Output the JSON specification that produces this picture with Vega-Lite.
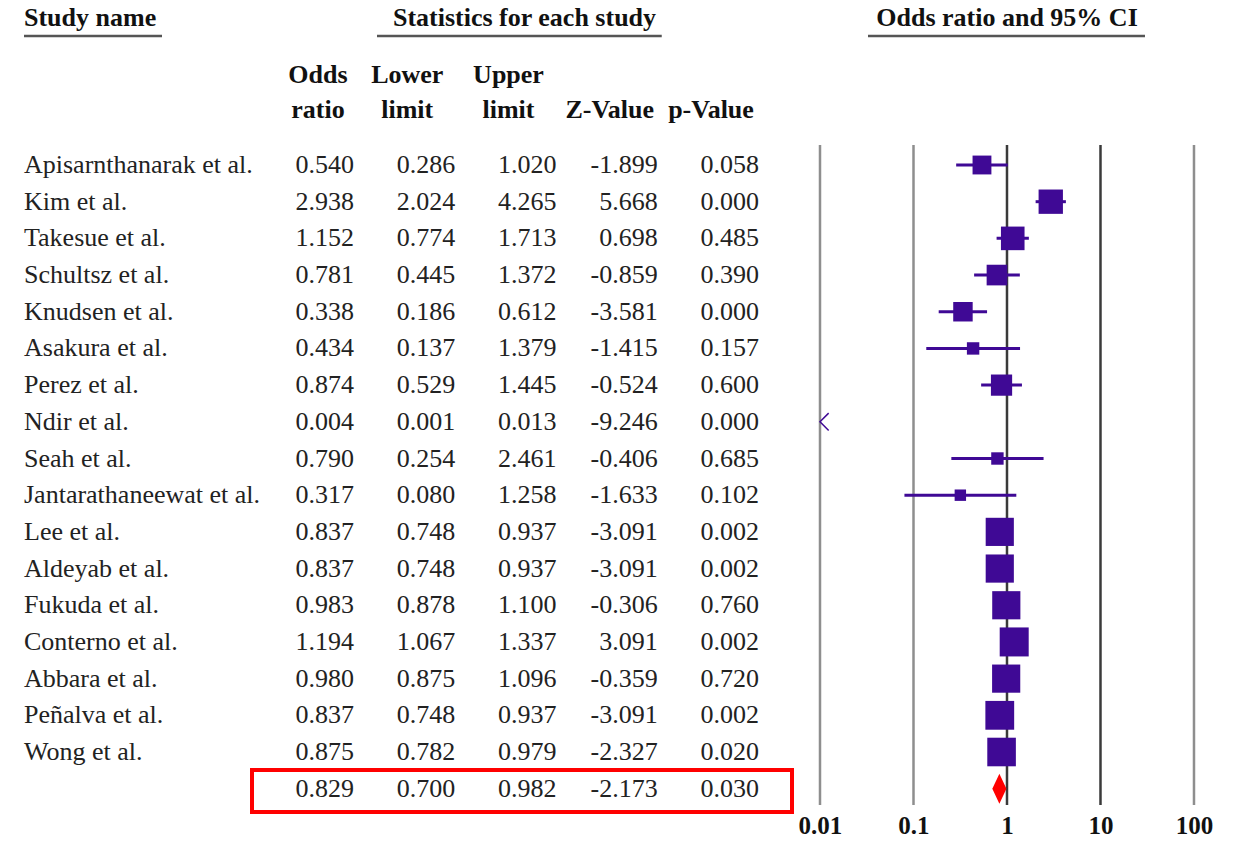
{
  "$schema": "https://vega.github.io/schema/vega-lite/v6.json",
  "padding": {"left": 22, "top": 0, "right": 0, "bottom": 0},
  "background": "white",
  "config": {
    "view": {"stroke": null},
    "locale": {"number": {"decimal": ".", "thousands": ",", "grouping": [3], "currency": ["$", ""], "minus": "-"}}
  },
  "datasets": {
    "main": [
      {"row": 0, "type": "study", "name": "Apisarnthanarak et al.", "or": 0.540, "lower": 0.286, "upper": 1.020, "z": -1.899, "p": 0.058, "weight": 3.0},
      {"row": 1, "type": "study", "name": "Kim et al.", "or": 2.938, "lower": 2.024, "upper": 4.265, "z": 5.668, "p": 0.000, "weight": 5.0},
      {"row": 2, "type": "study", "name": "Takesue et al.", "or": 1.152, "lower": 0.774, "upper": 1.713, "z": 0.698, "p": 0.485, "weight": 4.7},
      {"row": 3, "type": "study", "name": "Schultsz et al.", "or": 0.781, "lower": 0.445, "upper": 1.372, "z": -0.859, "p": 0.390, "weight": 3.6},
      {"row": 4, "type": "study", "name": "Knudsen et al.", "or": 0.338, "lower": 0.186, "upper": 0.612, "z": -3.581, "p": 0.000, "weight": 3.2},
      {"row": 5, "type": "study", "name": "Asakura et al.", "or": 0.434, "lower": 0.137, "upper": 1.379, "z": -1.415, "p": 0.157, "weight": 1.3},
      {"row": 6, "type": "study", "name": "Perez et al.", "or": 0.874, "lower": 0.529, "upper": 1.445, "z": -0.524, "p": 0.600, "weight": 3.8},
      {"row": 7, "type": "study", "name": "Ndir et al.", "or": 0.004, "lower": 0.001, "upper": 0.013, "z": -9.246, "p": 0.000, "weight": 0.5},
      {"row": 8, "type": "study", "name": "Seah et al.", "or": 0.790, "lower": 0.254, "upper": 2.461, "z": -0.406, "p": 0.685, "weight": 1.3},
      {"row": 9, "type": "study", "name": "Jantarathaneewat et al.", "or": 0.317, "lower": 0.080, "upper": 1.258, "z": -1.633, "p": 0.102, "weight": 1.1},
      {"row": 10, "type": "study", "name": "Lee et al.", "or": 0.837, "lower": 0.748, "upper": 0.937, "z": -3.091, "p": 0.002, "weight": 6.7},
      {"row": 11, "type": "study", "name": "Aldeyab et al.", "or": 0.837, "lower": 0.748, "upper": 0.937, "z": -3.091, "p": 0.002, "weight": 6.7},
      {"row": 12, "type": "study", "name": "Fukuda et al.", "or": 0.983, "lower": 0.878, "upper": 1.100, "z": -0.306, "p": 0.760, "weight": 6.7},
      {"row": 13, "type": "study", "name": "Conterno et al.", "or": 1.194, "lower": 1.067, "upper": 1.337, "z": 3.091, "p": 0.002, "weight": 7.1},
      {"row": 14, "type": "study", "name": "Abbara et al.", "or": 0.980, "lower": 0.875, "upper": 1.096, "z": -0.359, "p": 0.720, "weight": 6.7},
      {"row": 15, "type": "study", "name": "Peñalva et al.", "or": 0.837, "lower": 0.748, "upper": 0.937, "z": -3.091, "p": 0.002, "weight": 7.0},
      {"row": 16, "type": "study", "name": "Wong et al.", "or": 0.875, "lower": 0.782, "upper": 0.979, "z": -2.327, "p": 0.020, "weight": 6.9},
      {"row": 17, "type": "summary", "name": "", "or": 0.829, "lower": 0.700, "upper": 0.982, "z": -2.173, "p": 0.030, "weight": 0}
    ],
    "headers": [
      {"key": "or", "l1": "Odds", "l2": "ratio"},
      {"key": "lower", "l1": "Lower", "l2": "limit"},
      {"key": "upper", "l1": "Upper", "l2": "limit"},
      {"key": "z", "l1": "", "l2": "Z-Value"},
      {"key": "p", "l1": "", "l2": "p-Value"}
    ],
    "ticks": [{"tick": 0.01}, {"tick": 0.1}, {"tick": 1}, {"tick": 10}, {"tick": 100}]
  },
  "hconcat": [
    {
      "width": 138,
      "height": 805,
      "data": {"name": "main"},
      "layer": [
        {
          "data": {"values": [{}]},
          "mark": {"type": "text", "align": "left", "dx": -69, "font": "Liberation Serif", "fontSize": 26, "fontWeight": "bold", "color": "#111", "text": "Study name"},
          "encoding": {"y": {"datum": -4.006, "type": "quantitative", "scale": {"domain": [-4.4974, 17.4446], "reverse": true, "nice": false, "zero": false}, "axis": null}}
        },
        {
          "data": {"values": [{}]},
          "mark": {"type": "rule", "color": "#555", "strokeWidth": 2.5},
          "encoding": {"y": {"datum": -3.516, "type": "quantitative", "scale": {"domain": [-4.4974, 17.4446], "reverse": true, "nice": false, "zero": false}, "axis": null}}
        },
        {
          "transform": [{"filter": "datum.type == 'study'"}],
          "mark": {"type": "text", "align": "left", "dx": -69, "font": "Liberation Serif", "fontSize": 26, "color": "#222"},
          "encoding": {
            "y": {"field": "row", "type": "quantitative", "scale": {"domain": [-4.4974, 17.4446], "reverse": true, "nice": false, "zero": false}, "axis": null},
            "text": {"field": "name", "type": "nominal"}
          }
        }
      ]
    },
    {
      "hconcat": [
        {
          "width": 540,
          "height": 805,
          "data": {"name": "main"},
          "layer": [
            {
              "data": {"values": [{}]},
              "mark": {"type": "text", "align": "center", "dx": -30, "font": "Liberation Serif", "fontSize": 26, "fontWeight": "bold", "color": "#111", "text": "Statistics for each study"},
              "encoding": {
                "x": {"datum": "upper", "type": "nominal", "scale": {"type": "point", "domain": ["or", "lower", "upper", "z", "p"], "padding": 0.6667, "align": 0.7407}, "axis": null},
                "y": {"datum": -4.006, "type": "quantitative", "scale": {"domain": [-4.4974, 17.4446], "reverse": true, "nice": false, "zero": false}, "axis": null}
              }
            },
            {
              "data": {"values": [{}]},
              "mark": {"type": "rule", "color": "#555", "strokeWidth": 2.5, "xOffset": 25, "x2Offset": 6},
              "encoding": {
                "x": {"datum": "or", "type": "nominal", "scale": {"type": "point", "domain": ["or", "lower", "upper", "z", "p"], "padding": 0.6667, "align": 0.7407}, "axis": null},
                "x2": {"datum": "z"},
                "y": {"datum": -3.516, "type": "quantitative", "scale": {"domain": [-4.4974, 17.4446], "reverse": true, "nice": false, "zero": false}, "axis": null}
              }
            },
            {
              "data": {"name": "headers"},
              "transform": [{"filter": "datum.key == 'or'"}],
              "mark": {"type": "text", "align": "center", "dx": -34, "font": "Liberation Serif", "fontSize": 26, "fontWeight": "bold", "color": "#111"},
              "encoding": {
                "x": {"field": "key", "type": "nominal", "scale": {"type": "point", "domain": ["or", "lower", "upper", "z", "p"], "padding": 0.6667, "align": 0.7407}, "axis": null},
                "y": {"datum": -2.453, "type": "quantitative", "scale": {"domain": [-4.4974, 17.4446], "reverse": true, "nice": false, "zero": false}, "axis": null},
                "text": {"field": "l1", "type": "nominal"}
              }
            },
            {
              "data": {"name": "headers"},
              "transform": [{"filter": "datum.key == 'or'"}],
              "mark": {"type": "text", "align": "center", "dx": -34, "font": "Liberation Serif", "fontSize": 26, "fontWeight": "bold", "color": "#111"},
              "encoding": {
                "x": {"field": "key", "type": "nominal"},
                "y": {"datum": -1.499, "type": "quantitative"},
                "text": {"field": "l2", "type": "nominal"}
              }
            },
            {
              "data": {"name": "headers"},
              "transform": [{"filter": "datum.key != 'or'"}],
              "mark": {"type": "text", "align": "center", "dx": -46, "font": "Liberation Serif", "fontSize": 26, "fontWeight": "bold", "color": "#111"},
              "encoding": {
                "x": {"field": "key", "type": "nominal"},
                "y": {"datum": -2.453, "type": "quantitative"},
                "text": {"field": "l1", "type": "nominal"}
              }
            },
            {
              "data": {"name": "headers"},
              "transform": [{"filter": "datum.key != 'or'"}],
              "mark": {"type": "text", "align": "center", "dx": -46, "font": "Liberation Serif", "fontSize": 26, "fontWeight": "bold", "color": "#111"},
              "encoding": {
                "x": {"field": "key", "type": "nominal"},
                "y": {"datum": -1.499, "type": "quantitative"},
                "text": {"field": "l2", "type": "nominal"}
              }
            },
            {
              "transform": [{"fold": ["or", "lower", "upper", "z", "p"], "as": ["key", "value"]}],
              "mark": {"type": "text", "align": "right", "dx": 2, "font": "Liberation Serif", "fontSize": 26, "color": "#222"},
              "encoding": {
                "x": {"field": "key", "type": "nominal"},
                "y": {"field": "row", "type": "quantitative"},
                "text": {"field": "value", "type": "quantitative", "format": ".3f"}
              }
            },
            {
              "data": {"values": [{}]},
              "mark": {"type": "rect", "fill": "transparent", "stroke": "#ff0000", "strokeWidth": 4},
              "encoding": {
                "y": {"datum": 16.49, "type": "quantitative"},
                "y2": {"datum": 17.636}
              }
            }
          ],
          "resolve": {"scale": {"x": "shared", "y": "shared"}}
        },
        {
          "width": 453,
          "height": 805,
          "data": {"name": "main"},
          "layer": [
            {
              "data": {"name": "ticks"},
              "mark": {"type": "rule", "strokeWidth": 2.5},
              "encoding": {
                "x": {"field": "tick", "type": "quantitative", "title": null, "scale": {"type": "log", "domain": [0.005018, 351.2], "nice": false},
                  "axis": {"values": [0.01, 0.1, 1, 10, 100], "format": "~g", "domain": false, "ticks": false, "grid": false, "labelFont": "Liberation Serif", "labelFontSize": 25, "labelFontWeight": "bold", "labelColor": "#111", "labelPadding": 8, "labelFlush": false, "labelOverlap": false, "title": null}},
                "y": {"datum": -0.545, "type": "quantitative", "scale": {"domain": [-4.4974, 17.4446], "reverse": true, "nice": false, "zero": false}, "axis": null},
                "y2": {"datum": 17.4446},
                "color": {"condition": {"test": "datum.tick == 1 || datum.tick == 10", "value": "#3a3a3a"}, "value": "#8e8e8e"}
              }
            },
            {
              "data": {"values": [{}]},
              "mark": {"type": "text", "align": "center", "font": "Liberation Serif", "fontSize": 26, "fontWeight": "bold", "color": "#111", "text": "Odds ratio and 95% CI"},
              "encoding": {
                "x": {"datum": 1, "type": "quantitative", "title": null},
                "y": {"datum": -4.006, "type": "quantitative"}
              }
            },
            {
              "data": {"values": [{}]},
              "mark": {"type": "rule", "color": "#555", "strokeWidth": 2.5, "xOffset": 48, "x2Offset": -49},
              "encoding": {
                "x": {"datum": 0.01, "type": "quantitative", "title": null},
                "x2": {"datum": 100},
                "y": {"datum": -3.516, "type": "quantitative"}
              }
            },
            {
              "transform": [{"filter": "datum.type == 'study' && datum.or >= 0.01"}],
              "mark": {"type": "rule", "color": "#3f0995", "strokeWidth": 3},
              "encoding": {
                "x": {"field": "lower", "type": "quantitative", "title": null},
                "x2": {"field": "upper"},
                "y": {"field": "row", "type": "quantitative"}
              }
            },
            {
              "transform": [{"filter": "datum.type == 'study' && datum.or >= 0.01"}],
              "mark": {"type": "point", "shape": "square", "filled": true, "opacity": 1, "color": "#3f0995", "strokeWidth": 0},
              "encoding": {
                "x": {"field": "or", "type": "quantitative", "title": null},
                "y": {"field": "row", "type": "quantitative"},
                "size": {"field": "weight", "type": "quantitative", "scale": {"type": "linear", "domain": [0, 7.1], "range": [0, 841]}, "legend": null}
              }
            },
            {
              "transform": [{"filter": "datum.type == 'study' && datum.or < 0.01"}],
              "mark": {"type": "point", "shape": "M 1 -1 L 0 0 L 1 1", "filled": false, "opacity": 1, "color": "#3f0995", "strokeWidth": 1.5, "size": 300},
              "encoding": {
                "x": {"datum": 0.01, "type": "quantitative", "title": null},
                "y": {"field": "row", "type": "quantitative"}
              }
            },
            {
              "transform": [{"filter": "datum.type == 'summary'"}],
              "mark": {"type": "point", "shape": "M -0.47 0 L 0 -1 L 0.47 0 L 0 1 Z", "filled": true, "opacity": 1, "color": "#ff0000", "strokeWidth": 0, "size": 900},
              "encoding": {
                "x": {"field": "or", "type": "quantitative", "title": null},
                "y": {"field": "row", "type": "quantitative"}
              }
            }
          ]
        }
      ],
      "spacing": 0,
      "bounds": "flush",
      "resolve": {"scale": {"x": "independent", "y": "independent"}}
    }
  ],
  "spacing": 90,
  "bounds": "flush",
  "resolve": {"scale": {"x": "independent", "y": "independent"}}
}
